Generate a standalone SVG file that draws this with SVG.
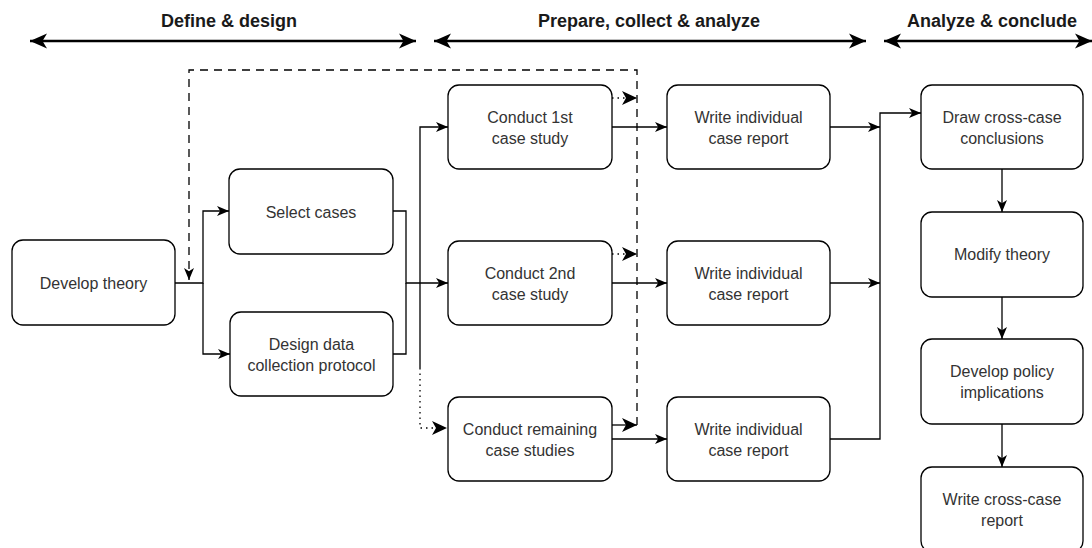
<svg xmlns="http://www.w3.org/2000/svg" width="1092" height="548" viewBox="0 0 1092 548">
<defs>
<style>
.box{fill:#fff;stroke:#000;stroke-width:1.3}
.t{font-family:"Liberation Sans",Arial,sans-serif;font-size:16px;fill:#333;text-anchor:middle}
.h{font-family:"Liberation Sans",Arial,sans-serif;font-size:18px;font-weight:bold;fill:#1a1a1a;text-anchor:middle}
.c{fill:none;stroke:#000;stroke-width:1.3}
.dash{stroke-dasharray:8 6}
.dot{stroke-dasharray:1.5 4}
.hd{fill:none;stroke:#000;stroke-width:2.5}
</style>
<marker id="a" markerUnits="userSpaceOnUse" markerWidth="13" markerHeight="11" refX="12" refY="5.5" orient="auto">
<path d="M0,0.5 L12,5.5 L0,10.5 L3.2,5.5 z" fill="#000"/>
</marker>
<marker id="b" markerUnits="userSpaceOnUse" markerWidth="16" markerHeight="14" refX="15" refY="7" orient="auto">
<path d="M0,0 L15,7 L0,14 L4,7 z" fill="#000"/>
</marker>
<marker id="hs" markerUnits="userSpaceOnUse" markerWidth="18" markerHeight="16" refX="17" refY="8" orient="auto-start-reverse">
<path d="M0,0.5 L17,8 L0,15.5 L4.5,8 z" fill="#000"/>
</marker>
</defs>

<g id="headers">
<text class="h" x="229" y="27">Define &amp; design</text>
<line class="hd" x1="30" y1="41" x2="416" y2="41" marker-start="url(#hs)" marker-end="url(#hs)"/>
<text class="h" x="649" y="27">Prepare, collect &amp; analyze</text>
<line class="hd" x1="434" y1="41" x2="866" y2="41" marker-start="url(#hs)" marker-end="url(#hs)"/>
<text class="h" x="992" y="27">Analyze &amp; conclude</text>
<line class="hd" x1="884" y1="41" x2="1092" y2="41" marker-start="url(#hs)" marker-end="url(#hs)"/>
</g>

<g id="connectors">
<path class="c dash" d="M637,425 V70 H189 V280" marker-end="url(#a)"/>
<path class="c" d="M175,283 H203 V211 H229" marker-end="url(#a)"/>
<path class="c" d="M203,283 V354 H230" marker-end="url(#a)"/>
<path class="c" d="M393,211 H406 V283 H448" marker-end="url(#a)"/>
<path class="c" d="M393,354 H406 V283"/>
<path class="c" d="M420,368 V127 H448" marker-end="url(#a)"/>
<path class="c dot" d="M420,368 V428 H447" marker-end="url(#b)"/>
<path class="c" d="M612,127 H667" marker-end="url(#a)"/>
<path class="c" d="M612,283 H667" marker-end="url(#a)"/>
<path class="c" d="M612,439 H667" marker-end="url(#a)"/>
<path class="c dot" d="M612,98 H637" marker-end="url(#b)"/>
<path class="c dot" d="M612,254 H637" marker-end="url(#b)"/>
<path class="c" d="M612,425 H637" marker-end="url(#b)"/>
<path class="c" d="M830,127 H880" marker-end="url(#a)"/>
<path class="c" d="M830,283 H880" marker-end="url(#a)"/>
<path class="c" d="M830,439 H880 V113 H921" marker-end="url(#a)"/>
<path class="c" d="M1002,169 V212" marker-end="url(#a)"/>
<path class="c" d="M1002,297 V339" marker-end="url(#a)"/>
<path class="c" d="M1002,424 V467" marker-end="url(#a)"/>
</g>

<g id="develop-theory"><rect class="box" x="12" y="240" width="163" height="85" rx="11"/><text class="t" x="93.5" y="288.5">Develop theory</text></g>
<g id="select-cases"><rect class="box" x="229" y="169" width="164" height="85" rx="11"/><text class="t" x="311" y="217.5">Select cases</text></g>
<g id="design-protocol"><rect class="box" x="230" y="312" width="163" height="84" rx="11"/><text class="t" x="311.5" y="349.5">Design data</text><text class="t" x="311.5" y="370.5">collection protocol</text></g>

<g id="conduct-1"><rect class="box" x="448" y="85" width="164" height="84" rx="11"/><text class="t" x="530" y="122.5">Conduct 1st</text><text class="t" x="530" y="143.5">case study</text></g>
<g id="conduct-2"><rect class="box" x="448" y="241" width="164" height="84" rx="11"/><text class="t" x="530" y="278.5">Conduct 2nd</text><text class="t" x="530" y="299.5">case study</text></g>
<g id="conduct-rest"><rect class="box" x="448" y="397" width="164" height="84" rx="11"/><text class="t" x="530" y="434.5">Conduct remaining</text><text class="t" x="530" y="455.5">case studies</text></g>

<g id="report-1"><rect class="box" x="667" y="85" width="163" height="84" rx="11"/><text class="t" x="748.5" y="122.5">Write individual</text><text class="t" x="748.5" y="143.5">case report</text></g>
<g id="report-2"><rect class="box" x="667" y="241" width="163" height="84" rx="11"/><text class="t" x="748.5" y="278.5">Write individual</text><text class="t" x="748.5" y="299.5">case report</text></g>
<g id="report-3"><rect class="box" x="667" y="397" width="163" height="84" rx="11"/><text class="t" x="748.5" y="434.5">Write individual</text><text class="t" x="748.5" y="455.5">case report</text></g>

<g id="cross-conclusions"><rect class="box" x="921" y="85" width="162" height="84" rx="11"/><text class="t" x="1002" y="122.5">Draw cross-case</text><text class="t" x="1002" y="143.5">conclusions</text></g>
<g id="modify-theory"><rect class="box" x="921" y="212" width="162" height="85" rx="11"/><text class="t" x="1002" y="260">Modify theory</text></g>
<g id="policy"><rect class="box" x="921" y="339" width="162" height="85" rx="11"/><text class="t" x="1002" y="376.5">Develop policy</text><text class="t" x="1002" y="397.5">implications</text></g>
<g id="cross-report"><rect class="box" x="921" y="467" width="162" height="85" rx="11"/><text class="t" x="1002" y="504.5">Write cross-case</text><text class="t" x="1002" y="525.5">report</text></g>
</svg>
